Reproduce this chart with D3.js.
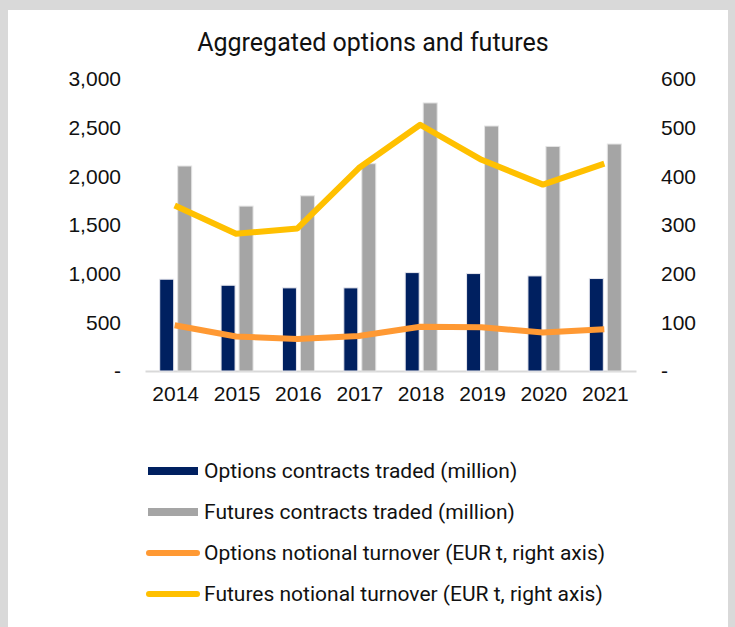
<!DOCTYPE html>
<html>
<head>
<meta charset="utf-8">
<script src="https://cdn.jsdelivr.net/npm/d3@7"></script>
<style>
  body { margin: 0; background: #d9d9d9; }
  svg { display: block; font-family: Roboto, "Noto Sans", sans-serif; }
</style>
</head>
<body>
<div id="chart"></div>
<script>
// data
let years = ["2014", "2015", "2016", "2017", "2018", "2019", "2020", "2021"]
let optionsContracts = [943, 881, 854, 854, 1011, 1001, 977, 950]
let futuresContracts = [2106, 1694, 1800, 2130, 2754, 2517, 2307, 2332]
let optionsTurnover = [94, 71, 66, 72, 91, 90, 79, 86]
let futuresTurnover = [340, 282, 293, 417, 506, 434, 383, 426]
let leftTicks = [0, 500, 1000, 1500, 2000, 2500, 3000]
let rightTicks = [0, 100, 200, 300, 400, 500, 600]
let seriesNames = [
  "Options contracts traded (million)",
  "Futures contracts traded (million)",
  "Options notional turnover (EUR t, right axis)",
  "Futures notional turnover (EUR t, right axis)"
]

let width = 735
    height = 627
    plotLeft = 145
    plotRight = 636
    plotTop = 79
    plotBottom = 371

let colors = ["#002060", "#a5a5a5", "#ff9933", "#ffc000"]

let svg = d3.select("#chart")
  .append("svg")
    .attr("width", width)
    .attr("height", height)

// white panel
svg.append("rect")
  .attr("x", 8).attr("y", 10)
  .attr("width", 720).attr("height", height - 10)
  .attr("fill", "white")

svg.append("text")
  .attr("x", 373).attr("y", 51)
  .attr("text-anchor", "middle")
  .style("font-size", "25px")
  .attr("fill", "#111")
  .text("Aggregated options and futures")

let x = d3.scaleBand()
  .domain(years)
  .range([plotLeft, plotRight])

let yLeft = d3.scaleLinear().domain([0, 3000]).range([plotBottom, plotTop])
let yRight = d3.scaleLinear().domain([0, 600]).range([plotBottom, plotTop])

let fmt = d => d === 0 ? "-" : d3.format(",")(d)

// left axis
let gLeft = svg.append("g")
  .attr("transform", "translate(" + 129 + ",0)")
  .call(d3.axisLeft(yLeft).tickValues(leftTicks).tickFormat(fmt).tickSize(0).tickPadding(8))
gLeft.select(".domain").remove()

// right axis
let gRight = svg.append("g")
  .attr("transform", "translate(" + 653 + ",0)")
  .call(d3.axisRight(yRight).tickValues(rightTicks).tickFormat(fmt).tickSize(0).tickPadding(8))
gRight.select(".domain").remove()

// x axis
let gX = svg.append("g")
  .attr("transform", "translate(0," + plotBottom + ")")
  .call(d3.axisBottom(x).tickSize(0).tickPadding(15))
gX.select(".domain").attr("stroke", "#d9d9d9").attr("stroke-width", 2)

svg.selectAll(".tick text")
  .style("font-size", "21px")
  .attr("fill", "#111")

// bars
let barW = 14
    gap = 4

svg.append("g").selectAll("rect")
  .data(optionsContracts)
  .enter()
  .append("rect")
    .attr("x", (d, i) => x(years[i]) + x.bandwidth() / 2 - gap / 2 - barW)
    .attr("y", d => yLeft(d))
    .attr("width", barW)
    .attr("height", d => plotBottom - yLeft(d))
    .attr("fill", colors[0])
    .attr("stroke", "#e8e8ee")
    .attr("stroke-width", 1)

svg.append("g").selectAll("rect")
  .data(futuresContracts)
  .enter()
  .append("rect")
    .attr("x", (d, i) => x(years[i]) + x.bandwidth() / 2 + gap / 2)
    .attr("y", d => yLeft(d))
    .attr("width", barW)
    .attr("height", d => plotBottom - yLeft(d))
    .attr("fill", colors[1])
    .attr("stroke", "#e4e4e4")
    .attr("stroke-width", 1)

// lines
let line = d3.line()
  .x((d, i) => x(years[i]) + x.bandwidth() / 2 - 1)
  .y(d => yRight(d))

svg.append("path")
  .datum(optionsTurnover)
  .attr("d", line)
  .attr("fill", "none")
  .attr("stroke", colors[2])
  .attr("stroke-width", 6)
  .attr("stroke-linejoin", "round")

svg.append("path")
  .datum(futuresTurnover)
  .attr("d", line)
  .attr("fill", "none")
  .attr("stroke", colors[3])
  .attr("stroke-width", 6)
  .attr("stroke-linejoin", "round")

// legend
let legend = svg.append("g")
  .selectAll("g")
  .data(seriesNames)
  .enter()
  .append("g")
    .attr("transform", (d, i) => "translate(0," + (471 + i * 41) + ")")

legend.filter((d, i) => i < 2)
  .append("rect")
    .attr("x", 148).attr("y", -4)
    .attr("width", 50).attr("height", 8)
    .attr("fill", (d, i) => colors[i])

legend.filter((d, i) => i >= 2)
  .append("line")
    .attr("x1", 149).attr("x2", 197)
    .attr("stroke", (d, i) => colors[i + 2])
    .attr("stroke-width", 6)
    .attr("stroke-linecap", "round")

legend.append("text")
  .attr("x", 204)
  .attr("dy", "0.35em")
  .style("font-size", "21px")
  .attr("fill", "#111")
  .text(d => d)
</script>
</body>
</html>
